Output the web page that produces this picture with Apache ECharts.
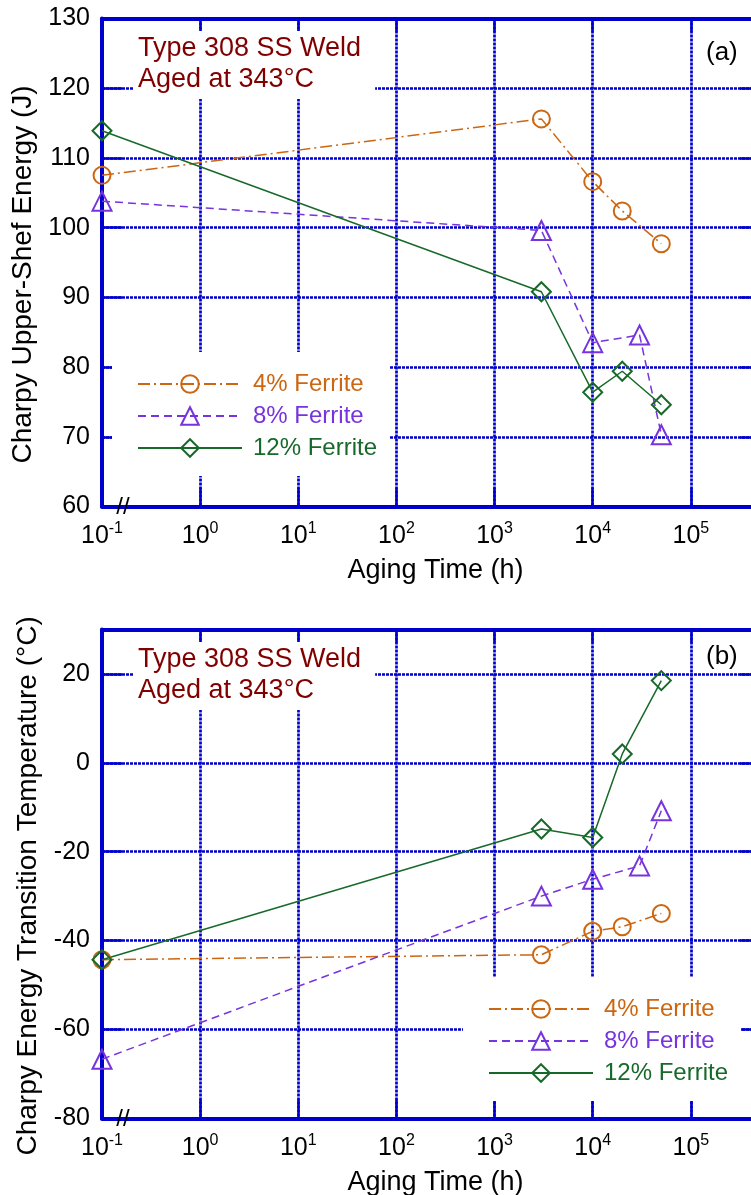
<!DOCTYPE html>
<html><head><meta charset="utf-8">
<script src="https://cdn.jsdelivr.net/npm/echarts@6/dist/echarts.min.js"></script>
<style>html,body{margin:0;padding:0;background:#fff}#c{width:751px;height:1195px}</style>
</head><body><div id="c"></div>
<script>
// ---- data ----
const seriesNames = ['4% Ferrite', '8% Ferrite', '12% Ferrite'];
// panel (a): Charpy upper-shelf energy (J)
const timesA4 = [0.1, 3000, 10000, 20000, 50000];
const energyA4 = [107.5, 115.6, 106.6, 102.4, 97.7];
const timesA8 = [0.1, 3000, 10000, 30000, 50000];
const energyA8 = [103.8, 99.6, 83.5, 84.6, 70.3];
const timesA12 = [0.1, 3000, 10000, 20000, 50000];
const energyA12 = [113.9, 90.8, 76.4, 79.4, 74.6];
// panel (b): Charpy energy transition temperature (°C)
const timesB4 = [0.1, 3000, 10000, 20000, 50000];
const tempB4 = [-44.3, -43.2, -37.9, -36.9, -33.9];
const timesB8 = [0.1, 3000, 10000, 30000, 50000];
const tempB8 = [-66.7, -30.0, -26.2, -23.2, -10.8];
const timesB12 = [0.1, 3000, 10000, 20000, 50000];
const tempB12 = [-44.3, -14.9, -16.8, 2.0, 18.5];
// axis ranges / labels
const xMin = 0.1, xMax = 1e6;
const yRangeA = [60, 130, 10];
const yRangeB = [-80, 30, 20];
const annotation = 'Type 308 SS Weld\nAged at 343°C';
const xName = 'Aging Time (h)';
const yNameA = 'Charpy Upper-Shef Energy (J)';
const yNameB = 'Charpy Energy Transition Temperature (°C)';

// ---- styles ----
const FONT = "'Liberation Sans', Arial, Helvetica, sans-serif";
const BLUE = '#0000cc';
const COLORS = ['#cc6611', '#7733dd', '#17692a'];
const SYMBOLS = ['circle', 'triangle', 'diamond'];
const SIZES = [17, 19, 19];
const DASHES = [[12, 4, 2, 4], [8, 5], 'solid'];
const GRIDLINE = { color: BLUE, width: 2.7, type: [3, 1] };

const zip = (xs, ys) => xs.map((x, i) => [x, ys[i]]);

function logLabel(v) {
  const l = Math.log10(v);
  const e = Math.round(l);
  if (Math.abs(l - e) > 1e-6 || e > 5) return '';
  return '{b|10}{s|' + e + '}';
}

function xAxes(gridIndex) {
  return [
    { gridIndex, type: 'log', logBase: 10, min: xMin, max: xMax, interval: 1, position: 'bottom',
      name: xName, nameLocation: 'middle', nameGap: 51,
      nameTextStyle: { fontSize: 27, color: '#000', fontFamily: FONT, padding: [0, 20, 0, 0] },
      axisLine: { show: true, onZero: false, lineStyle: { color: BLUE, width: 4 } },
      axisTick: { show: true, inside: true, length: 19, lineStyle: { color: BLUE, width: 2.5 } },
      minorTick: { show: false },
      axisLabel: { margin: 14, formatter: logLabel,
        rich: { b: { fontSize: 25, lineHeight: 32, color: '#000', fontFamily: FONT },
                s: { fontSize: 16, lineHeight: 14, verticalAlign: 'top', color: '#000', fontFamily: FONT } } },
      splitLine: { show: true, lineStyle: GRIDLINE } },
    { gridIndex, type: 'log', logBase: 10, min: xMin, max: xMax, interval: 1, position: 'top',
      axisLine: { show: true, onZero: false, lineStyle: { color: BLUE, width: 4 } },
      axisTick: { show: true, inside: true, length: 13, lineStyle: { color: BLUE, width: 2.5 } },
      axisLabel: { show: false }, splitLine: { show: false } }
  ];
}
function yAxes(gridIndex, r, name) {
  return [
    { gridIndex, type: 'value', min: r[0], max: r[1], interval: r[2], position: 'left',
      name, nameLocation: 'middle', nameGap: 60, nameRotate: 90,
      nameTextStyle: { fontSize: 28, color: '#000', fontFamily: FONT, padding: [0, 24, 0, 0] },
      axisLine: { show: true, onZero: false, lineStyle: { color: BLUE, width: 4 } },
      axisTick: { show: true, inside: true, length: 20, lineStyle: { color: BLUE, width: 2.5 } },
      axisLabel: { margin: 12, fontSize: 25, color: '#000', fontFamily: FONT,
        formatter: v => ((v - r[0]) % r[2] === 0 ? String(v) : '') },
      splitLine: { show: true, lineStyle: GRIDLINE } },
    { gridIndex, type: 'value', min: r[0], max: r[1], interval: r[2], position: 'right',
      axisLine: { show: true, onZero: false, lineStyle: { color: BLUE, width: 4 } },
      axisTick: { show: true, inside: true, length: 49, lineStyle: { color: BLUE, width: 2.5 } },
      axisLabel: { show: false }, splitLine: { show: false } }
  ];
}

function makeSeries(k, data, xi, yi) {
  return {
    type: 'line', name: seriesNames[k], xAxisIndex: xi, yAxisIndex: yi, data,
    clip: false, symbol: SYMBOLS[k], symbolSize: SIZES[k], z: 3,
    lineStyle: { color: COLORS[k], width: 1.5, type: DASHES[k] },
    itemStyle: { color: 'none', borderColor: COLORS[k], borderWidth: 2 },
    emphasis: { disabled: true }
  };
}

function legendFor(left, top, padding) {
  return {
    orient: 'vertical', left, top, padding, backgroundColor: '#fff', selectedMode: false,
    itemWidth: 104, itemHeight: 22, itemGap: 8,
    textStyle: { fontSize: 24, lineHeight: 24, fontFamily: FONT, padding: [0, 0, 0, 6] },
    data: seriesNames.map((n, k) => ({ name: n, textStyle: { color: COLORS[k] } }))
  };
}

const annStyle = { fontSize: 27, lineHeight: 31, color: '#800000', fontWeight: 'normal', fontFamily: FONT };

const option = {
  animation: false,
  backgroundColor: '#fff',
  grid: [
    { left: 102, top: 18.5, width: 687, height: 488, outerBoundsMode: 'none', containLabel: false },
    { left: 102, top: 629.5, width: 687, height: 488.8, outerBoundsMode: 'none', containLabel: false }
  ],
  xAxis: [...xAxes(0), ...xAxes(1)],
  yAxis: [...yAxes(0, yRangeA, yNameA), ...yAxes(1, yRangeB, yNameB)],
  title: [
    { text: annotation, left: 133, top: 31, padding: [2, 14, 4, 5], backgroundColor: '#fff', textStyle: annStyle },
    { text: annotation, left: 133, top: 642, padding: [2, 14, 4, 5], backgroundColor: '#fff', textStyle: annStyle },
    { text: '(a)', left: 706, top: 40, padding: 0, textStyle: { fontSize: 26, color: '#000', fontWeight: 'normal', fontFamily: FONT } },
    { text: '(b)', left: 706, top: 644, padding: 0, textStyle: { fontSize: 26, color: '#000', fontWeight: 'normal', fontFamily: FONT } }
  ],
  legend: [
    legendFor(112, 352, [20, 13, 16, 25]),
    legendFor(463, 977, [20, 13, 16, 25])
  ],
  series: [
    makeSeries(0, zip(timesA4, energyA4), 0, 0),
    makeSeries(1, zip(timesA8, energyA8), 0, 0),
    makeSeries(2, zip(timesA12, energyA12), 0, 0),
    makeSeries(0, zip(timesB4, tempB4), 2, 2),
    makeSeries(1, zip(timesB8, tempB8), 2, 2),
    makeSeries(2, zip(timesB12, tempB12), 2, 2)
  ]
};

const chart = echarts.init(document.getElementById('c'), null, { renderer: 'canvas' });
chart.setOption(option);

// axis-break marks "//" near the origin of each panel
const pA = chart.convertToPixel({ xAxisIndex: 0, yAxisIndex: 0 }, [xMin, yRangeA[0]]);
const pB = chart.convertToPixel({ xAxisIndex: 2, yAxisIndex: 2 }, [xMin, yRangeB[0]]);
chart.setOption({
  graphic: [pA, pB].map(p => ({
    type: 'text', x: p[0] + 21, y: p[1] + 1, z: 10,
    style: { text: '//', fontSize: 24, fontFamily: FONT, fill: '#000', align: 'center', verticalAlign: 'middle' }
  }))
});
</script>
</body></html>
